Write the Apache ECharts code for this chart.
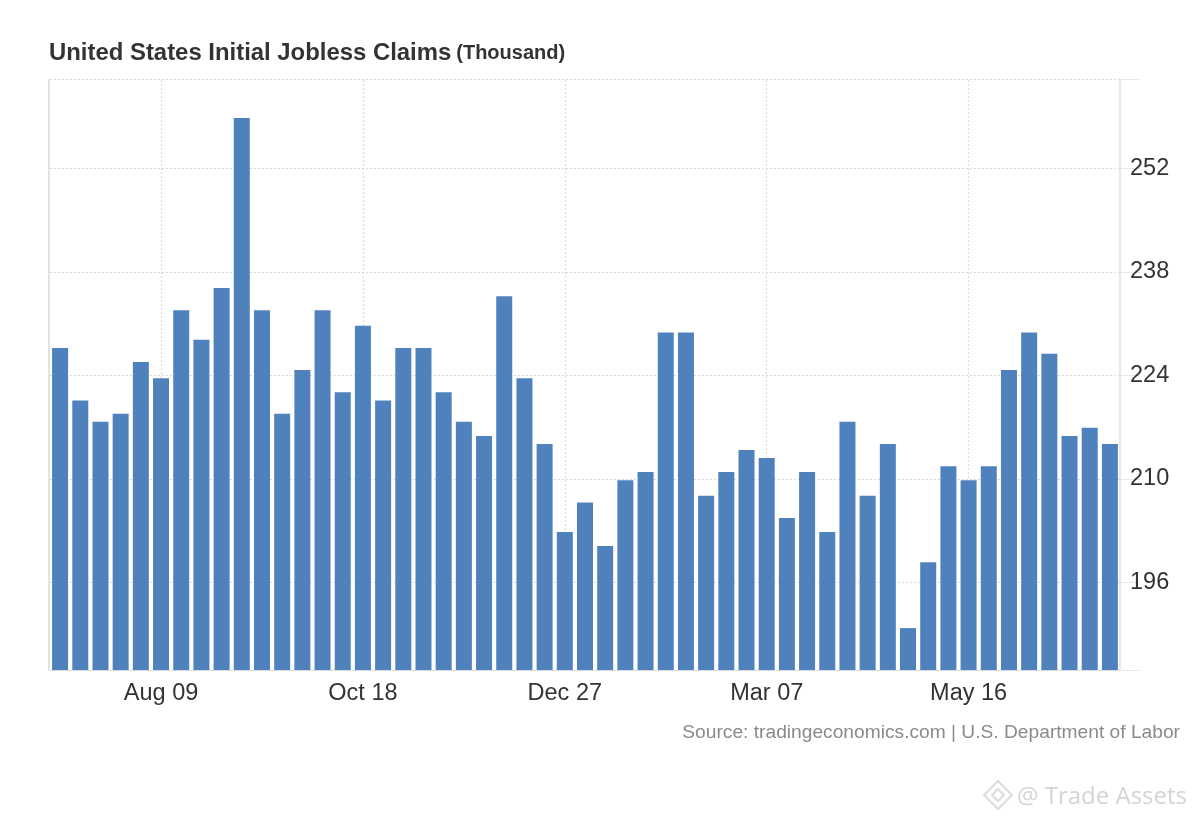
<!DOCTYPE html>
<html>
<head>
<meta charset="utf-8">
<style>html,body{margin:0;padding:0;background:#fff}#c{width:1200px;height:820px}</style>
<script src="https://cdn.jsdelivr.net/npm/echarts@6/dist/echarts.min.js"></script>
</head>
<body>
<div id="c"></div>
<script>
const titleText = "United States Initial Jobless Claims";
const unitText = "(Thousand)";
const sourceText = "Source: tradingeconomics.com | U.S. Department of Labor";
const watermarkText = "@ Trade Assets";
const categories = ["Jul 05","Jul 12","Jul 19","Jul 26","Aug 02","Aug 09","Aug 16","Aug 23","Aug 30","Sep 06","Sep 13","Sep 20","Sep 27","Oct 04","Oct 11","Oct 18","Oct 25","Nov 01","Nov 08","Nov 15","Nov 22","Nov 29","Dec 06","Dec 13","Dec 20","Dec 27","Jan 03","Jan 10","Jan 17","Jan 24","Jan 31","Feb 07","Feb 14","Feb 21","Feb 28","Mar 07","Mar 14","Mar 21","Mar 28","Apr 04","Apr 11","Apr 18","Apr 25","May 02","May 09","May 16","May 23","May 30","Jun 06","Jun 13","Jun 20","Jun 27","Jul 04"];
const claims = [227.7,220.6,217.7,218.8,225.8,223.6,232.8,228.8,235.8,258.8,232.8,218.8,224.7,232.8,221.7,230.7,220.6,227.7,227.7,221.7,217.7,215.8,234.7,223.6,214.7,202.8,206.8,200.9,209.8,210.9,229.8,229.8,207.7,210.9,213.9,212.8,204.7,210.9,202.8,217.7,207.7,214.7,189.8,198.7,211.7,209.8,211.7,224.7,229.8,226.9,215.8,216.9,214.7];
const yTicks = [196,210,224,238,252];
const yMin = 184.13, yMax = 264.08;
const xLabelIdx = [5,15,25,35,45];

const chart = echarts.init(document.getElementById('c'), null, {renderer:'canvas'});
const font = '"Liberation Sans", Arial, sans-serif';
chart.setOption({
  animation:false,
  backgroundColor:'#fff',
  title:{
    left:44, top:36,
    text:'{a|'+titleText+'} {b|'+unitText+'}',
    textStyle:{rich:{
      a:{fontFamily:font,fontWeight:'bold',fontSize:23.9,color:'#333'},
      b:{fontFamily:font,fontWeight:'bold',fontSize:20,color:'#333'}
    }}
  },
  grid:{left:50,right:80,top:79,bottom:150},
  xAxis:{
    type:'category',
    data:categories,
    boundaryGap:true,
    axisLine:{show:true,lineStyle:{color:'#dcdcdc',width:1}},
    axisTick:{show:false},
    axisLabel:{
      interval:(i)=>xLabelIdx.includes(i),
      fontFamily:font,fontSize:23.5,color:'#333',margin:12,hideOverlap:false
    },
    splitLine:{show:false}
  },
  yAxis:{
    type:'value',
    position:'right',
    min:yMin,max:yMax,
    axisLine:{show:true,lineStyle:{color:'#e6e6e6',width:2}},
    axisTick:{show:true,length:20,lineStyle:{color:'#e8e8e8'},customValues:[yMin].concat(yTicks,[yMax])},
    axisLabel:{
      customValues:yTicks,
      fontFamily:font,fontSize:23.5,color:'#333',margin:10,padding:[0,0,8,0]
    },
    splitLine:{show:true,lineStyle:{color:'#cfcfcf',type:[1.5,2.5],width:1.2}}
  },
  series:[
    {
      type:'bar',
      data:claims,
      barWidth:16,
      itemStyle:{color:'#4f81bd'},
      markLine:{
        silent:true,symbol:'none',z:0,animation:false,label:{show:false},
        lineStyle:{color:'#cfcfcf',type:[1.5,2.5],width:1.2},
        data:xLabelIdx.map(i=>({xAxis:categories[i]}))
      }
    },
    {
      type:'line',
      data:[],
      markLine:{
        silent:true,symbol:'none',z:0,animation:false,label:{show:false},
        lineStyle:{color:'#e2e2e2',type:'solid',width:2},
        data:[[{x:49,y:79},{x:49,y:670}]]
      }
    }
  ],
  graphic:[
    {type:'text',right:20,top:723,style:{text:sourceText,fontFamily:font,fontSize:19.2,fill:'#8a8a8a'}},
    {type:'text',left:1017,top:785,style:{text:watermarkText,fontFamily:'"Open Sans",sans-serif',fontSize:24,fill:'#d4d4d4'}},
    {type:'polygon',shape:{points:[[998,781],[1012,795],[998,809],[984,795]]},style:{fill:'none',stroke:'#dcdcdc',lineWidth:2}},
    {type:'polygon',shape:{points:[[998,789],[1004,795],[998,801],[992,795]]},style:{fill:'none',stroke:'#dcdcdc',lineWidth:2}}
  ]
});
</script>
</body>
</html>
